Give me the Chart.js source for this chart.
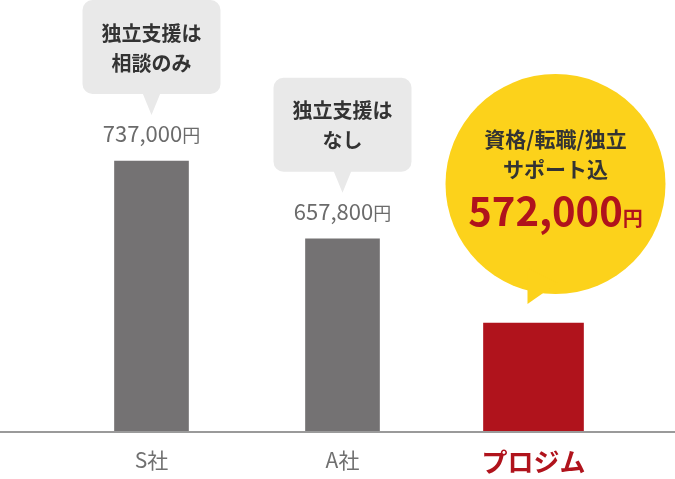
<!DOCTYPE html>
<html>
<head>
<meta charset="utf-8">
<script src="https://cdn.jsdelivr.net/npm/chart.js@4/dist/chart.umd.min.js"></script>
<style>
  html, body { margin: 0; padding: 0; background: #fff; }
  #wrap { width: 675px; height: 479px; }
</style>
</head>
<body>
<div id="wrap"><canvas id="chart" width="675" height="479"></canvas></div>
<script>
const companies = ['S社', 'A社', 'プロジム'];
const otherPrices = [737000, 657800, null];
const ourPrice = [null, null, 572000];
const calloutLines = [
  ['独立支援は', '相談のみ'],
  ['独立支援は', 'なし'],
  ['資格/転職/独立', 'サポート込']
];

const FONT = '"Noto Sans CJK JP", "Noto Sans", sans-serif';
const GRAY = '#747273';
const RED = '#b0131c';
const YELLOW = '#fcd21b';

function yen(v)
{
  return v.toLocaleString('en-US');
}

function roundRect(ctx, x, y, w, h, r)
{
  ctx.beginPath();
  ctx.moveTo(x + r, y);
  ctx.arcTo(x + w, y, x + w, y + h, r);
  ctx.arcTo(x + w, y + h, x, y + h, r);
  ctx.arcTo(x, y + h, x, y, r);
  ctx.arcTo(x, y, x + w, y, r);
  ctx.closePath();
}

// price text with a smaller 円 after it, centred on x
function drawPrice(ctx, text, x, y, bigFont, smallFont, color)
{
  ctx.font = bigFont;
  const w1 = ctx.measureText(text).width;
  ctx.font = smallFont;
  const w2 = ctx.measureText('円').width;
  const left = x - (w1 + w2) / 2;
  ctx.fillStyle = color;
  ctx.textAlign = 'left';
  ctx.textBaseline = 'alphabetic';
  ctx.font = bigFont;
  ctx.fillText(text, left, y);
  ctx.font = smallFont;
  ctx.fillText('円', left + w1, y);
}

const baseLine = {
  id: 'baseLine',
  beforeDatasetsDraw(chart)
  {
    const ctx = chart.ctx;
    const y = chart.chartArea.bottom + 1;
    ctx.save();
    ctx.strokeStyle = '#9a9a9a';
    ctx.lineWidth = 2;
    ctx.beginPath();
    ctx.moveTo(0, y);
    ctx.lineTo(chart.width, y);
    ctx.stroke();
    ctx.restore();
  }
};

const callouts = {
  id: 'callouts',
  afterDatasetsDraw(chart)
  {
    const ctx = chart.ctx;
    ctx.save();

    // gray speech boxes for the other companies
    const gray = chart.getDatasetMeta(0).data;
    otherPrices.forEach((v, i) =>
    {
      if (v === null) return;
      const bar = gray[i];
      drawPrice(ctx, yen(v), bar.x, bar.y - 19, '400 22px ' + FONT, '400 18px ' + FONT, '#6b6b6b');

      const boxBottom = bar.y - 67;
      const boxTop = boxBottom - 94;
      ctx.fillStyle = '#e9e9e9';
      roundRect(ctx, bar.x - 69, boxTop, 138, 94, 10);
      ctx.fill();
      ctx.beginPath();
      ctx.moveTo(bar.x - 9, boxBottom - 1);
      ctx.lineTo(bar.x + 9, boxBottom - 1);
      ctx.lineTo(bar.x, bar.y - 46);
      ctx.closePath();
      ctx.fill();

      ctx.fillStyle = '#333';
      ctx.font = '700 20px ' + FONT;
      ctx.textAlign = 'center';
      ctx.textBaseline = 'middle';
      calloutLines[i].forEach((t, k) => ctx.fillText(t, bar.x, boxTop + 33 + k * 30));
    });

    // yellow circle for our own price
    const red = chart.getDatasetMeta(1).data;
    ourPrice.forEach((v, i) =>
    {
      if (v === null) return;
      const bar = red[i];
      const cx = bar.x + 22;
      const cy = bar.y - 139;
      ctx.fillStyle = YELLOW;
      ctx.beginPath();
      ctx.arc(cx, cy, 110, 0, Math.PI * 2);
      ctx.fill();
      ctx.beginPath();
      ctx.moveTo(bar.x - 6, bar.y - 55);
      ctx.lineTo(bar.x + 24, bar.y - 40);
      ctx.lineTo(bar.x - 6, bar.y - 19);
      ctx.closePath();
      ctx.fill();

      ctx.fillStyle = '#333';
      ctx.font = '700 21px ' + FONT;
      ctx.textAlign = 'center';
      ctx.textBaseline = 'middle';
      calloutLines[i].forEach((t, k) => ctx.fillText(t, cx, cy - 45 + k * 30));

      drawPrice(ctx, yen(v), cx, cy + 42, '700 40px ' + FONT, '700 20px ' + FONT, RED);
    });

    ctx.restore();
  }
};

const ctx = document.getElementById('chart').getContext('2d');
const myChart = new Chart(ctx, {
  type: 'bar',
  data: {
    labels: companies,
    datasets: [
      {
        data: otherPrices,
        backgroundColor: GRAY,
        barThickness: 74
      },
      {
        data: ourPrice,
        backgroundColor: RED,
        barThickness: 100
      }
    ]
  },
  options: {
    responsive: false,
    animation: false,
    events: [],
    layout: { padding: { left: 56, right: 46, top: 0, bottom: 0 } },
    plugins: {
      legend: { display: false },
      tooltip: { enabled: false }
    },
    datasets: { bar: { grouped: false } },
    scales: {
      x: {
        grid: { display: false },
        border: { display: false },
        ticks: {
          padding: 8,
          color: c => c.index === 2 ? RED : '#707070',
          font: c => c.index === 2
            ? { family: FONT, size: 26, weight: '700' }
            : { family: FONT, size: 21, weight: '400' }
        },
        afterFit(scale) { scale.height = 48; }
      },
      y: {
        display: false,
        min: 462000,
        max: 901000
      }
    }
  },
  plugins: [baseLine, callouts]
});
</script>
</body>
</html>
